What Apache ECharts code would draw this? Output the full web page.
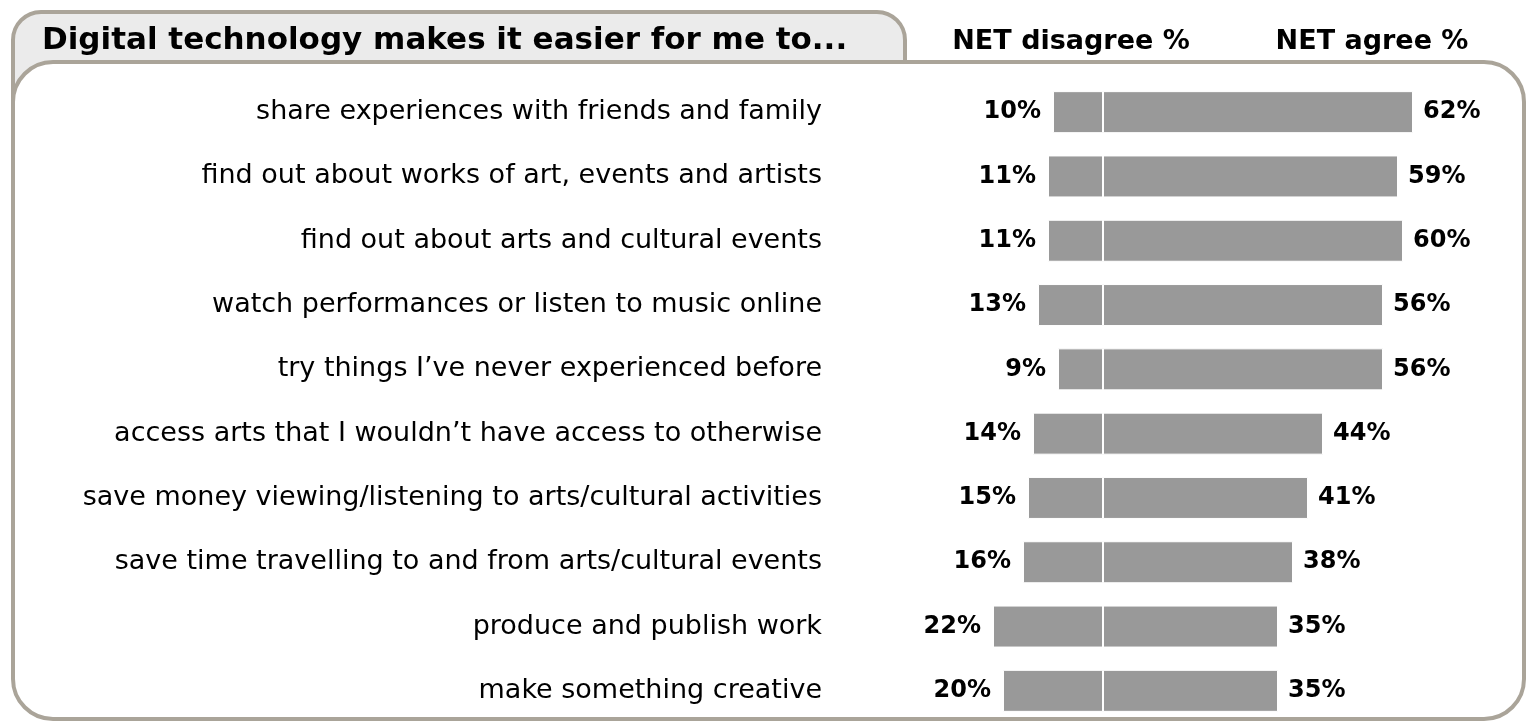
<!DOCTYPE html>
<html>
<head>
<meta charset="utf-8">
<title>Digital technology makes it easier for me to...</title>
<script src="https://cdn.jsdelivr.net/npm/echarts@6/dist/echarts.min.js"></script>
<style>
  html, body { margin: 0; padding: 0; background: #ffffff; }
  #chart { width: 1527px; height: 723px; }
</style>
</head>
<body>
<div id="chart"></div>
<script>
// Statements, top to bottom
const statements = [
  'share experiences with friends and family',
  'find out about works of art, events and artists',
  'find out about arts and cultural events',
  'watch performances or listen to music online',
  'try things I\u2019ve never experienced before',
  'access arts that I wouldn\u2019t have access to otherwise',
  'save money viewing/listening to arts/cultural activities',
  'save time travelling to and from arts/cultural events',
  'produce and publish work',
  'make something creative'
];
// NET disagree % and NET agree % per statement
const netDisagree = [10, 11, 11, 13, 9, 14, 15, 16, 22, 20];
const netAgree = [62, 59, 60, 56, 56, 44, 41, 38, 35, 35];

const titleText = 'Digital technology makes it easier for me to...';
const disagreeHeader = 'NET disagree %';
const agreeHeader = 'NET agree %';

const FONT = '"DejaVu Sans", Verdana, sans-serif';
const FRAME = '#aaa499';
const BAR = '#999999';

const chart = echarts.init(document.getElementById('chart'), null, { renderer: 'canvas' });

chart.setOption({
  animation: false,
  backgroundColor: '#ffffff',
  graphic: [
    {
      type: 'rect', z: -20,
      shape: { x: 13, y: 12, width: 892, height: 90, r: [28, 28, 0, 0] },
      style: { fill: '#ebebeb', stroke: FRAME, lineWidth: 4 }
    },
    {
      type: 'rect', z: -10,
      shape: { x: 13, y: 62, width: 1511, height: 657, r: 40 },
      style: { fill: '#ffffff', stroke: FRAME, lineWidth: 4 }
    },
    {
      type: 'text', z: 10, left: 42, top: 25,
      style: { text: titleText, font: 'bold 31px ' + FONT, fill: '#000000' }
    },
    {
      type: 'text', z: 10, x: 1071, y: 42,
      style: { text: disagreeHeader, font: 'bold 27px ' + FONT, fill: '#000000', align: 'center', verticalAlign: 'middle' }
    },
    {
      type: 'text', z: 10, x: 1372, y: 42,
      style: { text: agreeHeader, font: 'bold 27px ' + FONT, fill: '#000000', align: 'center', verticalAlign: 'middle' }
    }
  ],
  grid: { left: 903, width: 600, top: 80, height: 644, containLabel: false },
  xAxis: {
    type: 'value', min: -40, max: 80,
    show: false
  },
  yAxis: {
    type: 'category',
    data: statements,
    inverse: true,
    axisLine: { show: false },
    axisTick: { show: false },
    splitLine: { show: false },
    axisLabel: {
      margin: 81,
      color: '#000000',
      fontFamily: FONT,
      fontSize: 27
    }
  },
  series: [
    {
      name: 'NET disagree %',
      type: 'bar',
      data: netDisagree.map(v => -v),
      barWidth: 42,
      barGap: '-100%',
      itemStyle: { color: BAR, borderColor: '#ffffff', borderWidth: 1 },
      label: {
        show: true, position: 'left', distance: 12,
        formatter: p => Math.abs(p.value) + '%',
        color: '#000000', fontFamily: FONT, fontWeight: 'bold', fontSize: 24
      }
    },
    {
      name: 'NET agree %',
      type: 'bar',
      data: netAgree,
      barWidth: 42,
      itemStyle: { color: BAR, borderColor: '#ffffff', borderWidth: 1 },
      label: {
        show: true, position: 'right', distance: 10,
        formatter: p => p.value + '%',
        color: '#000000', fontFamily: FONT, fontWeight: 'bold', fontSize: 24
      }
    }
  ]
});
</script>
</body>
</html>
